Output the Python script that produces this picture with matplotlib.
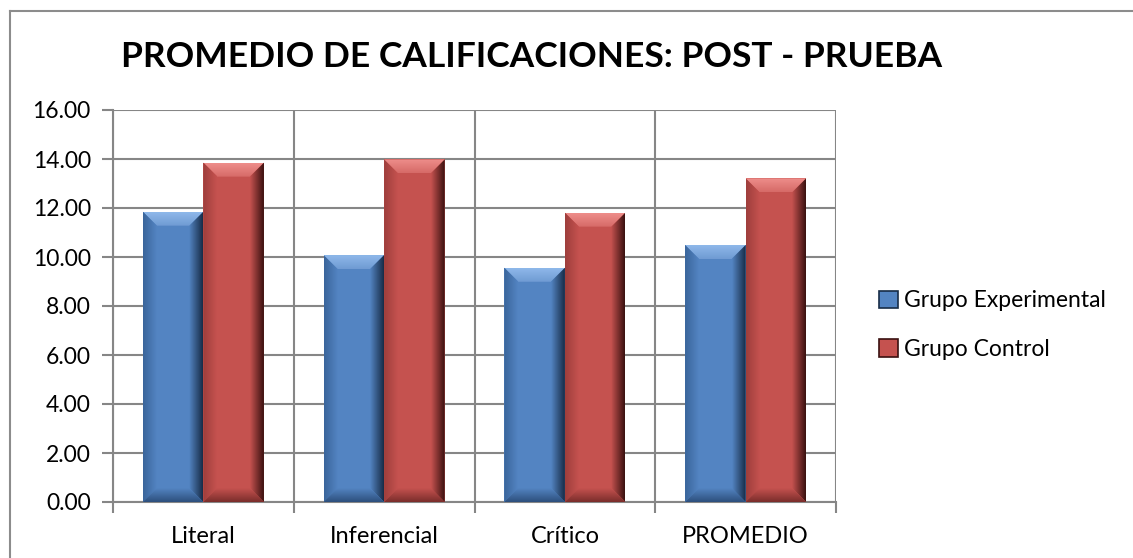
import matplotlib
matplotlib.use("Agg")
import matplotlib.pyplot as plt
import numpy as np
from matplotlib.patches import Polygon, Rectangle
from matplotlib.lines import Line2D
from matplotlib.colors import to_rgba

plt.rcParams['font.family'] = ['Lato', 'DejaVu Sans']

categories = ["Literal", "Inferencial", "Crítico", "PROMEDIO"]
series_names = ["Grupo Experimental", "Grupo Control"]
experimental = [11.85, 10.08, 9.56, 10.49]
control = [13.85, 13.98, 11.81, 13.21]
yticks = [0, 2, 4, 6, 8, 10, 12, 14, 16]

W, H = 1133, 558
fig = plt.figure(figsize=(W / 100, H / 100), dpi=100)
ax = fig.add_axes([113 / W, 1 - 502 / H, 723 / W, 392 / H])

ax.set_xlim(-0.5, len(categories) - 0.5)
ax.set_ylim(0, 16)

px_x = len(categories) / 723.0
px_y = 16 / 392.0
bev = 14

palettes = [
    dict(main="#5384C2", top="#8FB8EA", topin="#6F9BD3", left="#3A659B", right="#172C47", bottom="#2D4F7C"),
    dict(main="#C5524F", top="#EE8E8B", topin="#D66A67", left="#9E3E3C", right="#3A1110", bottom="#7A2D2B"),
]

bw = 0.335


def grad_img(c_from, c_to, n=64, vertical=False):
    a = np.array(to_rgba(c_from))
    b = np.array(to_rgba(c_to))
    t = np.linspace(0, 1, n)[:, None]
    row = a * (1 - t) + b * t
    if vertical:
        return row[:, None, :]
    return row[None, :, :]


def grad_poly(pts, img, zorder):
    xs = [p[0] for p in pts]
    ys = [p[1] for p in pts]
    poly = Polygon(pts, closed=True, facecolor="none", edgecolor="none")
    ax.add_patch(poly)
    im = ax.imshow(img, extent=(min(xs), max(xs), min(ys), max(ys)), origin="upper",
                   aspect="auto", interpolation="bilinear", zorder=zorder)
    im.set_clip_path(poly)


def bevel_bar(x0, x1, y1, pal, zorder=3):
    y0 = 0
    dx = bev * px_x
    dy = min(bev * px_y, y1 / 2)
    ax.add_patch(Rectangle((x0, y0), x1 - x0, y1, facecolor=pal["main"], edgecolor="none", zorder=zorder))
    grad_poly([(x0, y1), (x1, y1), (x1 - dx, y1 - dy), (x0 + dx, y1 - dy)],
              grad_img(pal["top"], pal["topin"], vertical=True), zorder + 0.1)
    grad_poly([(x0, y0), (x0, y1), (x0 + dx, y1 - dy), (x0 + dx, y0 + dy)],
              grad_img(pal["left"], pal["main"]), zorder + 0.1)
    grad_poly([(x1, y0), (x1, y1), (x1 - dx, y1 - dy), (x1 - dx, y0 + dy)],
              grad_img(pal["main"], pal["right"]), zorder + 0.1)
    grad_poly([(x0, y0), (x1, y0), (x1 - dx, y0 + dy), (x0 + dx, y0 + dy)],
              grad_img(pal["main"], pal["bottom"], vertical=True), zorder + 0.1)


x = np.arange(len(categories))
for i, (vals, pal) in enumerate(zip([experimental, control], palettes)):
    for xi, v in zip(x, vals):
        left = xi - bw if i == 0 else xi
        bevel_bar(left, left + bw, v, pal)

ax.set_xlim(-0.5, len(categories) - 0.5)
ax.set_ylim(0, 16)

grid_c = "#868686"
ax.set_yticks(yticks)
ax.set_yticklabels([f"{t:.2f}" for t in yticks])
ax.set_xticks(x)
ax.set_xticklabels(categories)
ax.set_xticks(np.arange(len(categories) + 1) - 0.5, minor=True)
ax.tick_params(axis="x", which="major", length=0, pad=17, labelsize=17)
ax.tick_params(axis="x", which="minor", length=8, width=1.5, color=grid_c)
ax.tick_params(axis="y", length=8, width=1.5, color=grid_c, pad=8, labelsize=16.5)
ax.yaxis.grid(True, color=grid_c, linewidth=1.5, zorder=0)
ax.xaxis.grid(True, which="minor", color=grid_c, linewidth=1.5, zorder=0)
ax.set_axisbelow(True)
for s in ["top", "right"]:
    ax.spines[s].set_visible(False)
for s in ["left", "bottom"]:
    ax.spines[s].set_color(grid_c)
    ax.spines[s].set_linewidth(1.5)

fig.text(532 / W, 1 - 57 / H, "PROMEDIO DE CALIFICACIONES: POST - PRUEBA",
         ha="center", va="center", fontsize=25.5, fontweight="bold")

handles = [Rectangle((0, 0), 1, 1, facecolor=p["main"], edgecolor=p["right"], linewidth=1.2) for p in palettes]
fig.legend(handles, series_names, loc="center left", bbox_to_anchor=(870 / W, 1 - 325 / H),
           frameon=False, fontsize=16.5, handlelength=0.8, handleheight=0.8,
           handletextpad=0.3, labelspacing=1.2, borderaxespad=0)

fig.add_artist(Line2D([10 / W, 10 / W], [0, 1 - 11 / H], color="#8C8C8C", linewidth=1.5))
fig.add_artist(Line2D([10 / W, 1], [1 - 11 / H, 1 - 11 / H], color="#8C8C8C", linewidth=1.5))

fig.savefig("out.png", dpi=100)
